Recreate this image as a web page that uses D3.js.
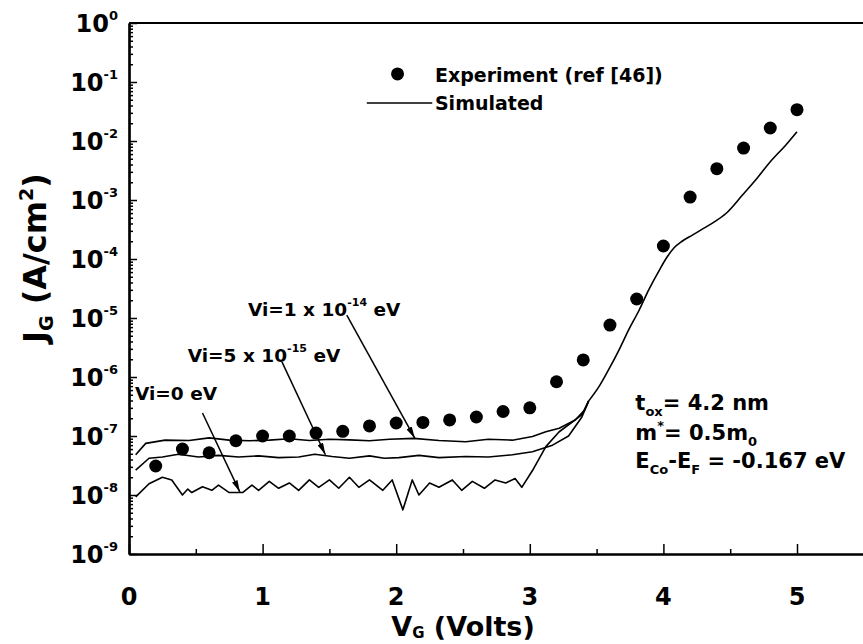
<!DOCTYPE html>
<html>
<head>
<meta charset="utf-8">
<script src="https://cdn.jsdelivr.net/npm/d3@7"></script>
<style>
  body { margin: 0; background: #fff; }
  svg { display: block; }
  text { font-family: "DejaVu Sans", "Liberation Sans", Arial, sans-serif; font-weight: bold; fill: #000; }
</style>
</head>
<body>
<div id="chart"></div>
<script>
// experiment (ref [46])
const expV = [0.2, 0.4, 0.6, 0.8, 1.0, 1.2, 1.4, 1.6, 1.8, 2.0, 2.2, 2.4, 2.6, 2.8, 3.0,
              3.2, 3.4, 3.6, 3.8, 4.0, 4.2, 4.4, 4.6, 4.8, 5.0]
const expJ = [3.1e-8, 6.0e-8, 5.2e-8, 8.3e-8, 1.0e-7, 1.0e-7, 1.12e-7, 1.2e-7, 1.48e-7, 1.66e-7,
              1.7e-7, 1.87e-7, 2.1e-7, 2.6e-7, 3.0e-7, 8.3e-7, 1.95e-6, 7.6e-6, 2.1e-5, 1.66e-4,
              1.12e-3, 3.4e-3, 7.6e-3, 1.66e-2, 3.4e-2]

// simulated, Vi = 1e-14 eV (low bias part)
const vi14V = [0.05, 0.125, 0.27, 0.45, 0.6, 0.75, 0.9, 1.05, 1.2, 1.35, 1.5, 1.65, 1.8, 1.95,
               2.13, 2.32, 2.52, 2.69, 2.87, 3.02, 3.12, 3.22, 3.34, 3.41]
const vi14J = [4.8e-8, 7.5e-8, 8.5e-8, 8.4e-8, 9.3e-8, 8.5e-8, 8.3e-8, 8.5e-8, 9.0e-8, 8.4e-8,
               8.8e-8, 8.6e-8, 8.3e-8, 8.8e-8, 9.1e-8, 8.4e-8, 8.0e-8, 8.8e-8, 8.5e-8, 9.8e-8,
               1.18e-7, 1.35e-7, 1.87e-7, 2.75e-7]

// simulated, Vi = 5e-15 eV
const vi15V = [0.05, 0.15, 0.25, 0.37, 0.52, 0.67, 0.82, 0.97, 1.12, 1.27, 1.39, 1.52, 1.65, 1.8,
               1.91, 2.02, 2.17, 2.32, 2.52, 2.69, 2.87, 3.02, 3.17, 3.29, 3.39]
const vi15J = [2.65e-8, 4.2e-8, 4.4e-8, 4.9e-8, 4.4e-8, 4.7e-8, 4.4e-8, 4.6e-8, 4.3e-8, 4.4e-8,
               4.9e-8, 4.5e-8, 4.2e-8, 4.6e-8, 4.2e-8, 4.3e-8, 4.7e-8, 4.3e-8, 4.5e-8, 4.4e-8,
               4.8e-8, 5.4e-8, 7.0e-8, 1.0e-7, 2.1e-7]

// simulated, Vi = 0 eV
const vi0V = [0.05, 0.15, 0.25, 0.32, 0.4, 0.44, 0.47, 0.55, 0.62, 0.67, 0.75, 0.85, 0.92, 0.97,
              1.05, 1.12, 1.2, 1.27, 1.35, 1.42, 1.5, 1.57, 1.65, 1.72, 1.8, 1.9, 1.97, 2.05,
              2.12, 2.17, 2.25, 2.32, 2.42, 2.49, 2.57, 2.66, 2.74, 2.82, 2.89, 2.94, 3.02,
              3.12, 3.22, 3.32, 3.39]
const vi0J = [9.3e-9, 1.55e-8, 2.0e-8, 1.8e-8, 1.0e-8, 1.26e-8, 1.1e-8, 1.38e-8, 1.2e-8, 1.47e-8,
              1.1e-8, 1.1e-8, 1.47e-8, 1.2e-8, 1.7e-8, 1.3e-8, 1.6e-8, 1.2e-8, 1.8e-8, 1.35e-8,
              1.8e-8, 1.3e-8, 2.0e-8, 1.35e-8, 1.8e-8, 1.2e-8, 1.8e-8, 5.6e-9, 1.8e-8, 1.0e-8,
              1.6e-8, 1.35e-8, 1.8e-8, 1.2e-8, 1.7e-8, 1.3e-8, 1.8e-8, 1.6e-8, 1.9e-8, 1.35e-8,
              2.6e-8, 6.6e-8, 1.18e-7, 1.74e-7, 2.3e-7]

// common high bias part of the simulated curves
const riseV = [3.44, 3.52, 3.59, 3.67, 3.74, 3.82, 3.89, 3.97, 4.03, 4.08, 4.14, 4.22, 4.3, 4.37,
               4.47, 4.59, 4.69, 4.8, 4.915, 5.0]
const riseJ = [3.9e-7, 7.0e-7, 1.33e-6, 2.95e-6, 6.3e-6, 1.38e-5, 3.0e-5, 6.5e-5, 1.1e-4, 1.55e-4,
               2.0e-4, 2.56e-4, 3.3e-4, 4.1e-4, 5.96e-4, 1.2e-3, 2.18e-3, 4.45e-3, 8.5e-3, 1.44e-2]

const xTicks = [0, 1, 2, 3, 4, 5]
const xMinor = [0.5, 1.5, 2.5, 3.5, 4.5, 5.5]
const yExps = [0, -1, -2, -3, -4, -5, -6, -7, -8, -9]

let width = 863
let height = 644
let plotLeft = 129, plotTop = 23, plotBottom = 554

let x = d3.scaleLinear().domain([0, 5.5]).range([plotLeft, plotLeft + 5.5 * 133.6])
let y = d3.scaleLog().domain([1e-9, 1]).range([plotBottom, plotTop])

let svg = d3.select("#chart").append("svg")
  .attr("width", width).attr("height", height)

let pairs = (vs, js) => vs.map((v, i) => [v, js[i]])
let rise = pairs(riseV, riseJ)
// noisy low-bias parts run straight into the first point of the shared rise
let lows = [
  pairs(vi14V, vi14J).concat([rise[0]]),
  pairs(vi15V, vi15J).concat([rise[0]]),
  pairs(vi0V, vi0J).concat([rise[0]])
]

// axes, ticks inward
let ax = svg.append("g").attr("class", "axes")
ax.append("g").attr("transform", `translate(0,${plotBottom})`)
  .call(d3.axisBottom(x).tickValues(xMinor).tickSize(-5).tickSizeOuter(0).tickFormat(""))
ax.append("g").attr("transform", `translate(0,${plotBottom})`)
  .call(d3.axisBottom(x).tickValues(xTicks).tickSize(-10).tickSizeOuter(0).tickFormat(""))

let yMinor = []
yExps.slice(1).forEach(e => { for (let k = 2; k <= 9; k++) yMinor.push(k * Math.pow(10, e)) })
ax.append("g").attr("transform", `translate(${plotLeft},0)`)
  .call(d3.axisLeft(y).tickValues(yMinor).tickSize(-4).tickSizeOuter(0).tickFormat(""))
ax.append("g").attr("transform", `translate(${plotLeft},0)`)
  .call(d3.axisLeft(y).tickValues(yExps.map(e => Math.pow(10, e))).tickSize(-8).tickSizeOuter(0).tickFormat(""))

ax.selectAll("path, line").attr("stroke", "#000")
ax.selectAll("path.domain").attr("stroke-width", 2.2)
ax.selectAll(".tick line").attr("stroke-width", 1.5)

// top frame
svg.append("line")
  .attr("x1", plotLeft).attr("x2", x(5.5))
  .attr("y1", plotTop).attr("y2", plotTop)
  .attr("stroke", "#000").attr("stroke-width", 2.2)

// tick labels
svg.append("g").selectAll("text")
  .data(xTicks).join("text")
  .attr("x", d => x(d)).attr("y", 605)
  .attr("text-anchor", "middle").attr("font-size", 24)
  .text(d => d)

let ylab = svg.append("g").selectAll("text")
  .data(yExps).join("text")
  .attr("x", 118).attr("y", d => y(Math.pow(10, d)) + 9)
  .attr("text-anchor", "end").attr("font-size", 24)
ylab.append("tspan").text("10")
ylab.append("tspan").attr("dy", -12).attr("font-size", 13).text(d => d)

// axis titles
let xt = svg.append("text")
  .attr("x", x(2.5)).attr("y", 636)
  .attr("text-anchor", "middle").attr("font-size", 27)
xt.append("tspan").text("V")
xt.append("tspan").attr("font-size", 15).attr("dy", 2).text("G")
xt.append("tspan").attr("dy", -2).text(" (Volts)")

let yt = svg.append("text")
  .attr("transform", `translate(46,${258}) rotate(-90)`)
  .attr("text-anchor", "middle").attr("font-size", 32)
yt.append("tspan").text("J")
yt.append("tspan").attr("font-size", 19).attr("dy", 7).text("G")
yt.append("tspan").attr("dy", -7).text(" (A/cm")
yt.append("tspan").attr("font-size", 19).attr("dy", -13).text("2")
yt.append("tspan").attr("dy", 13).text(")")

// simulated curves
let sim = svg.append("g")
  .attr("fill", "none").attr("stroke", "#000").attr("stroke-width", 1.6)
  .attr("stroke-linejoin", "round")
let lineLow = d3.line().x(d => x(d[0])).y(d => y(d[1]))
let lineRise = d3.line().x(d => x(d[0])).y(d => y(d[1])).curve(d3.curveMonotoneX)
sim.selectAll("path.low").data(lows).join("path").attr("class", "low").attr("d", lineLow)
sim.append("path").datum(rise).attr("d", lineRise)

// experiment dots
svg.append("g").selectAll("circle")
  .data(pairs(expV, expJ)).join("circle")
  .attr("cx", d => x(d[0])).attr("cy", d => y(d[1]))
  .attr("r", 6.5).attr("fill", "#000")

// legend
let lg = svg.append("g")
lg.append("circle").attr("cx", x(2.01)).attr("cy", y(0.137)).attr("r", 6.5).attr("fill", "#000")
lg.append("text").attr("x", x(2.29)).attr("y", y(0.1)).attr("font-size", 19)
  .text("Experiment (ref [46])")
lg.append("line")
  .attr("x1", x(1.78)).attr("x2", x(2.27))
  .attr("y1", y(0.044)).attr("y2", y(0.044))
  .attr("stroke", "#000").attr("stroke-width", 1.6)
lg.append("text").attr("x", x(2.29)).attr("y", y(0.0335)).attr("font-size", 19)
  .text("Simulated")

// arrow annotations
svg.append("defs").append("marker")
  .attr("id", "head").attr("viewBox", "0 0 12 6")
  .attr("refX", 12).attr("refY", 3)
  .attr("markerWidth", 12).attr("markerHeight", 6)
  .attr("markerUnits", "userSpaceOnUse").attr("orient", "auto")
  .append("path").attr("d", "M0,0 L12,3 L0,6 Z").attr("fill", "#000")

let notes = [
  {label: ["Vi=1 x 10", "-14", " eV"], at: [0.89, 1.08e-5], from: [1.63, 1.12e-5], to: [2.14, 9.1e-8]},
  {label: ["Vi=5 x 10", "-15", " eV"], at: [0.44, 1.82e-6], from: [1.145, 1.8e-6], to: [1.47, 4.8e-8]},
  {label: ["Vi=0 eV", "", ""], at: [0.045, 4.1e-7], from: [0.55, 2.45e-7], to: [0.83, 1.12e-8]}
]
notes.forEach(n => {
  let t = svg.append("text").attr("x", x(n.at[0])).attr("y", y(n.at[1])).attr("font-size", 18.5)
  t.append("tspan").text(n.label[0])
  if (n.label[1]) {
    t.append("tspan").attr("font-size", 11).attr("dy", -10).text(n.label[1])
    t.append("tspan").attr("dy", 10).text(n.label[2])
  }
  svg.append("line")
    .attr("x1", x(n.from[0])).attr("y1", y(n.from[1]))
    .attr("x2", x(n.to[0])).attr("y2", y(n.to[1]))
    .attr("stroke", "#000").attr("stroke-width", 1.5)
    .attr("marker-end", "url(#head)")
})

// parameters block
let px = x(3.79)
let p1 = svg.append("text").attr("x", px).attr("y", y(2.75e-7)).attr("font-size", 21)
p1.append("tspan").text("t")
p1.append("tspan").attr("font-size", 13).attr("dy", 6).text("ox")
p1.append("tspan").attr("dy", -6).text("= 4.2 nm")

let p2 = svg.append("text").attr("x", px).attr("y", y(8.5e-8)).attr("font-size", 21)
p2.append("tspan").text("m")
p2.append("tspan").attr("font-size", 13).attr("dy", -10).text("*")
p2.append("tspan").attr("dy", 10).text("= 0.5m")
p2.append("tspan").attr("font-size", 13).attr("dy", 6).text("0")

let p3 = svg.append("text").attr("x", px).attr("y", y(2.9e-8)).attr("font-size", 21)
p3.append("tspan").text("E")
p3.append("tspan").attr("font-size", 13).attr("dy", 6).text("Co")
p3.append("tspan").attr("dy", -6).text("-E")
p3.append("tspan").attr("font-size", 13).attr("dy", 6).text("F")
p3.append("tspan").attr("dy", -6).text(" = -0.167 eV")
</script>
</body>
</html>
